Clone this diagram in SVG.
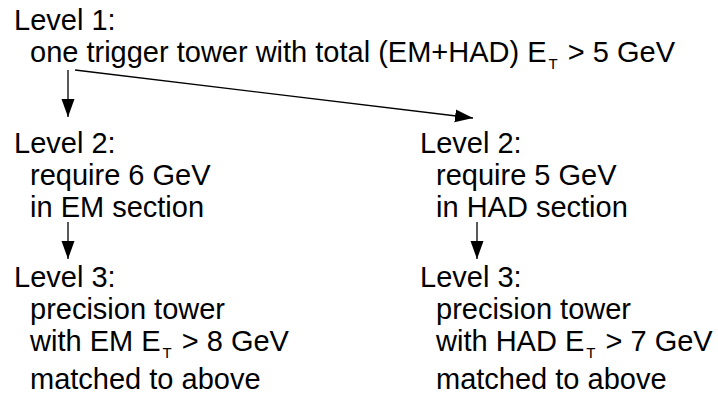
<svg xmlns="http://www.w3.org/2000/svg" width="718" height="396" viewBox="0 0 718 396">
  <style>
    text { font-family: "Liberation Sans", Arial, sans-serif; font-size: 29px; fill: #000; }
    .sub { font-size: 15px; }
    .conn { stroke: #000; stroke-width: 1.3; fill: none; marker-end: url(#head); }
  </style>
  <defs>
    <marker id="head" markerUnits="userSpaceOnUse" markerWidth="20" markerHeight="14" refX="18" refY="6.5" orient="auto">
      <path d="M0,0 L18,6.5 L0,13 Z" fill="#000"/>
    </marker>
  </defs>
  <rect width="718" height="396" fill="#fff"/>

  <g id="level1">
    <text x="14" y="30">Level 1:</text>
    <text x="30" y="62">one trigger tower with total (EM+HAD) E<tspan class="sub" dx="2" dy="7">T</tspan><tspan dx="2" dy="-7"> &gt; 5 GeV</tspan></text>
  </g>

  <g id="level2-em">
    <text x="14" y="153">Level 2:</text>
    <text x="30" y="185">require 6 GeV</text>
    <text x="30" y="217">in EM section</text>
  </g>

  <g id="level2-had">
    <text x="420" y="153">Level 2:</text>
    <text x="436" y="185">require 5 GeV</text>
    <text x="436" y="217">in HAD section</text>
  </g>

  <g id="level3-em">
    <text x="14" y="287">Level 3:</text>
    <text x="30" y="319">precision tower</text>
    <text x="30" y="351">with EM E<tspan class="sub" dx="2" dy="7">T</tspan><tspan dx="2" dy="-7"> &gt; 8 GeV</tspan></text>
    <text x="30" y="389">matched to above</text>
  </g>

  <g id="level3-had">
    <text x="420" y="287">Level 3:</text>
    <text x="436" y="319">precision tower</text>
    <text x="436" y="351">with HAD E<tspan class="sub" dx="2" dy="7">T</tspan><tspan dx="2" dy="-7"> &gt; 7 GeV</tspan></text>
    <text x="436" y="389">matched to above</text>
  </g>

  <g id="connectors">
    <line class="conn" x1="68" y1="70" x2="68" y2="117"/>
    <line class="conn" x1="75" y1="70" x2="473" y2="118"/>
    <line class="conn" x1="68" y1="222" x2="68" y2="259"/>
    <line class="conn" x1="477" y1="222" x2="477" y2="259"/>
  </g>
</svg>
